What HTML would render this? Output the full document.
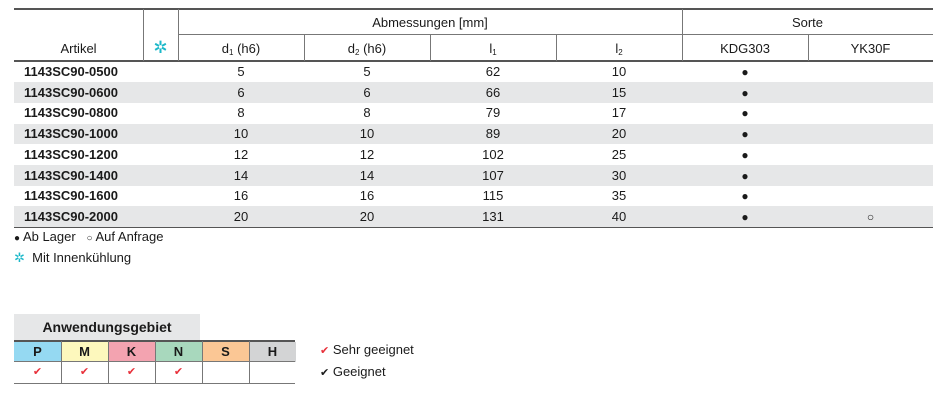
<!DOCTYPE html>
<html><head><meta charset="utf-8"><style>
body{margin:0;width:946px;height:401px;background:#fff;font-family:"Liberation Sans",sans-serif;color:#1a1a1a;position:relative;overflow:hidden}
div{position:absolute;box-sizing:border-box;white-space:nowrap}
.t{font-size:13px;text-align:center;line-height:20px}
.h{font-size:13px;text-align:center}
.b{font-weight:bold;font-size:13px;line-height:20px}
.hl{background:#555}
.sh{background:#e6e7e8}
sub{font-size:8px;vertical-align:-2px}
</style></head><body>
<div class="hl" style="left:14px;top:8px;width:919px;height:1.5px"></div>
<div class="hl" style="left:178px;top:34px;width:755px;height:1px;background:#777"></div>
<div class="hl" style="left:14px;top:60px;width:919px;height:1.5px"></div>
<div class="hl" style="left:143px;top:9px;width:1px;height:52px;background:#777"></div>
<div class="hl" style="left:178px;top:9px;width:1px;height:52px;background:#777"></div>
<div class="hl" style="left:682px;top:9px;width:1px;height:52px;background:#777"></div>
<div class="hl" style="left:304px;top:35px;width:1px;height:26px;background:#777"></div>
<div class="hl" style="left:430px;top:35px;width:1px;height:26px;background:#777"></div>
<div class="hl" style="left:556px;top:35px;width:1px;height:26px;background:#777"></div>
<div class="hl" style="left:808px;top:35px;width:1px;height:26px;background:#777"></div>
<div class="h" style="left:178px;top:15px;width:504px">Abmessungen [mm]</div>
<div class="h" style="left:682px;top:15px;width:251px">Sorte</div>
<div class="h" style="left:14px;top:41px;width:129px">Artikel</div>
<div class="h" style="left:143px;top:38px;width:35px;color:#1bb8c9;font-size:17px">✲</div>
<div class="h" style="left:178px;top:41px;width:126px">d<sub>1</sub> (h6)</div>
<div class="h" style="left:304px;top:41px;width:126px">d<sub>2</sub> (h6)</div>
<div class="h" style="left:430px;top:41px;width:126px">l<sub>1</sub></div>
<div class="h" style="left:556px;top:41px;width:126px">l<sub>2</sub></div>
<div class="h" style="left:682px;top:41px;width:126px">KDG303</div>
<div class="h" style="left:808px;top:41px;width:125px">YK30F</div>
<div class="sh" style="left:14px;top:82px;width:919px;height:20.5px"></div>
<div class="sh" style="left:14px;top:123.5px;width:919px;height:20.5px"></div>
<div class="sh" style="left:14px;top:165px;width:919px;height:20.5px"></div>
<div class="sh" style="left:14px;top:206px;width:919px;height:21px"></div>
<div class="hl" style="left:14px;top:226.5px;width:919px;height:1.5px"></div>
<div id="rows"></div>
<script>
var d=[["0500",5,5,62,10],["0600",6,6,66,15],["0800",8,8,79,17],["1000",10,10,89,20],["1200",12,12,102,25],["1400",14,14,107,30],["1600",16,16,115,35],["2000",20,20,131,40]];
var h="";d.forEach(function(r,i){var y=62+i*20.7;
h+='<div class="b" style="left:24px;top:'+y+'px">1143SC90-'+r[0]+'</div>';
[178,304,430,556].forEach(function(x,j){h+='<div class="t" style="left:'+x+'px;top:'+y+'px;width:126px">'+r[j+1]+'</div>'});
h+='<div class="t" style="left:682px;top:'+y+'px;width:126px;font-size:12px">●</div>';
if(i==7)h+='<div class="t" style="left:808px;top:'+y+'px;width:125px;font-size:12px">○</div>';});
document.getElementById("rows").innerHTML=h;
</script>
<div style="left:14px;top:228px;font-size:13px;line-height:18px"><span style="font-size:10px">●</span> Ab Lager &nbsp;&nbsp;<span style="font-size:10px">○</span> Auf Anfrage</div>
<div style="left:14px;top:249px;font-size:13px;line-height:18px"><span style="color:#1bb8c9">✲</span>&nbsp; Mit Innenkühlung</div>
<div style="left:14px;top:314px;width:186px;height:26px;background:#e6e7e8;font-weight:bold;font-size:14px;text-align:center;line-height:26px">Anwendungsgebiet</div>
<div style="left:14px;top:340px;width:281px;height:1.5px;background:#555"></div>
<div id="ap"></div>
<script>
var c=[["P","#95d9f2"],["M","#fdf8bd"],["K","#f3a3b0"],["N","#a8d8bd"],["S","#fbc795"],["H","#d3d4d5"]];var s="";
c.forEach(function(e,i){var x=14+i*47;s+='<div style="left:'+x+'px;top:341.5px;width:47px;height:20px;background:'+e[1]+';font-weight:bold;font-size:13px;text-align:center;line-height:20px">'+e[0]+'</div>';
if(i>0)s+='<div style="left:'+x+'px;top:341px;width:1px;height:42px;background:#777"></div>';
if(i<4)s+='<div style="left:'+x+'px;top:362px;width:47px;height:21px;color:#e8303a;font-size:11px;text-align:center;line-height:21px">✔</div>';});
document.getElementById("ap").innerHTML=s;
</script>
<div style="left:14px;top:361px;width:281px;height:1px;background:#777"></div>
<div style="left:14px;top:382.5px;width:281px;height:1.5px;background:#777"></div>
<div style="left:320px;top:341px;font-size:13px;line-height:18px"><span style="color:#e8303a;font-size:11px">✔</span> Sehr geeignet</div>
<div style="left:320px;top:363px;font-size:13px;line-height:18px"><span style="font-size:11px">✔</span> Geeignet</div>
</body></html>
